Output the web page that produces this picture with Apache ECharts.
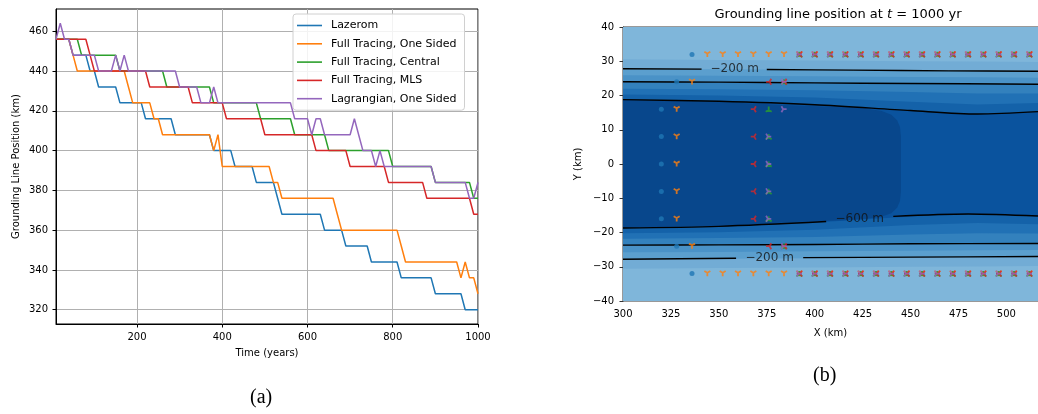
<!DOCTYPE html>
<html><head><meta charset="utf-8">
<script src="https://cdn.jsdelivr.net/npm/echarts@6/dist/echarts.min.js"></script>
<style>html,body{margin:0;padding:0;background:#fff}#c{width:1038px;height:414px}</style>
</head><body><div id="c"></div><script>
// ---------- Panel (a): grounding line position vs time ----------
const seriesNames = ['Lazerom', 'Full Tracing, One Sided', 'Full Tracing, Central', 'Full Tracing, MLS', 'Lagrangian, One Sided'];
const seriesColors = ['#1f77b4', '#ff7f0e', '#2ca02c', '#d62728', '#9467bd'];
const timeTicks = [200, 400, 600, 800, 1000];
const posTicks = [320, 340, 360, 380, 400, 420, 440, 460];

const lazerom = [[10,456],[40,456],[50,448],[80,448],[90,440],[100,440],[110,432],[150,432],[160,424],[210,424],[220,416],[280,416],[290,408],[370,408],[380,400],[420,400],[430,392],[470,392],[480,384],[520,384],[530,376],[540,368],[630,368],[640,360],[680,360],[690,352],[740,352],[750,344],[810,344],[820,336],[890,336],[900,328],[960,328],[970,320],[1000,320]];
const ftOneSided = [[10,456],[40,456],[50,448],[60,440],[170,440],[180,432],[190,424],[230,424],[240,416],[250,416],[260,408],[370,408],[380,400],[390,408],[400,392],[510,392],[520,384],[530,384],[540,376],[660,376],[670,368],[680,360],[810,360],[820,352],[830,344],[950,344],[960,336],[970,344],[980,336],[990,336],[1000,328]];
const ftCentral = [[10,456],[60,456],[70,448],[150,448],[160,440],[260,440],[270,432],[370,432],[380,424],[480,424],[490,416],[560,416],[570,408],[640,408],[650,400],[790,400],[800,392],[890,392],[900,384],[980,384],[990,376],[1000,376]];
const ftMLS = [[10,456],[80,456],[90,448],[100,440],[220,440],[230,432],[320,432],[330,424],[400,424],[410,416],[490,416],[500,408],[610,408],[620,400],[690,400],[700,392],[780,392],[790,384],[870,384],[880,376],[980,376],[990,368],[1000,368]];
const lagOneSided = [[10,456],[20,464],[30,456],[40,456],[50,448],[100,448],[110,440],[140,440],[150,448],[160,440],[170,448],[180,440],[290,440],[300,432],[340,432],[350,424],[370,424],[380,432],[390,424],[560,424],[570,416],[600,416],[610,408],[620,416],[630,416],[640,408],[700,408],[710,416],[720,408],[730,400],[750,400],[760,392],[770,400],[780,392],[890,392],[900,384],[970,384],[980,376],[990,376],[1000,384]];
const lineData = [lazerom, ftOneSided, ftCentral, ftMLS, lagOneSided];

// ---------- Panel (b): map at t = 1000 yr ----------
const xTicks = [300, 325, 350, 375, 400, 425, 450, 475, 500];
const yTicks = [-40, -30, -20, -10, 0, 10, 20, 30, 40];

// filled contour bands (boundaries sampled at contourX), outermost first
const contourX = [300, 350, 400, 450, 485, 516.5];
const bandUpper = [
  [40, 40, 40, 40, 40, 40],
  [30.6, 30.4, 30.2, 30.0, 29.9, 29.8],
  [27.8, 27.7, 27.5, 27.3, 27.2, 27.1],
  [25.9, 25.8, 25.6, 25.4, 25.3, 25.2],
  [24.0, 23.9, 23.7, 23.5, 23.4, 23.3],
  [22.0, 21.8, 21.5, 21.0, 20.6, 20.6],
  [20.3, 20.0, 19.4, 18.2, 17.4, 17.8],
  [18.8, 18.3, 17.3, 15.6, 14.6, 15.3]
];
const bandLower = [
  [-40, -40, -40, -40, -40, -40],
  [-30.6, -30.4, -30.2, -30.0, -29.9, -29.8],
  [-27.8, -27.7, -27.5, -27.3, -27.2, -27.1],
  [-25.8, -25.7, -25.5, -25.3, -25.2, -25.1],
  [-23.7, -23.6, -23.5, -23.3, -23.2, -23.2],
  [-21.8, -21.6, -21.3, -20.6, -20.2, -20.3],
  [-20.2, -19.9, -19.2, -17.8, -17.2, -17.6],
  [-18.7, -18.2, -17.1, -15.3, -14.6, -15.2]
];
const bandColors = ['#7fb6da', '#72acd5', '#5b9fce', '#4a92c7', '#3381bd', '#2171b5', '#1462a9', '#0a539e'];
// deepest band (core)
const coreX = [300, 350, 390, 415, 427, 435, 440, 443, 444.5, 445, 445, 444.5, 443, 440, 435, 427, 415, 390, 350, 300];
const coreY = [18.7, 18.1, 17.1, 16.6, 16.2, 15.5, 14.4, 12.8, 10.8, 8, -8, -10.8, -12.8, -14.4, -15.3, -16.0, -16.4, -16.9, -18.0, -18.6];
const coreColor = '#08478c';

// contour lines (segments broken where labels sit)
const contourSegments = [
  [[300,27.8],[341,27.7]], [[375,27.6],[420,27.4],[470,27.2],[516.5,27.1]],
  [[300,24.0],[350,23.9],[400,23.7],[450,23.5],[516.5,23.3]],
  [[300,18.8],[350,18.3],[400,17.3],[450,15.6],[485,14.6],[516.5,15.3]],
  [[300,-18.7],[350,-18.2],[406,-16.8]], [[441,-15.3],[480,-14.6],[516.5,-15.2]],
  [[300,-23.7],[350,-23.6],[400,-23.5],[450,-23.3],[516.5,-23.2]],
  [[300,-27.8],[359,-27.5]], [[394,-27.35],[450,-27.2],[516.5,-27.0]]
];
const contourLabels = [[358.3, 27.9, '\u2212200 m'], [423.5, -15.9, '\u2212600 m'], [376.5, -27.3, '\u2212200 m']];

// grounding line positions per method
const edgeX = [392, 400, 408, 416, 424, 432, 440, 448, 456, 464, 472, 480, 488, 496, 504, 512];
const lazeromPts = [[336,32],[328,24],[320,16],[320,8],[320,0],[320,-8],[320,-16],[328,-24],[336,-32]];
const ftOneSidedPts = [[344,32],[352,32],[360,32],[368,32],[376,32],[384,32],[336,24],[328,16],[328,8],[328,0],[328,-8],[328,-16],[336,-24],[344,-32],[352,-32],[360,-32],[368,-32],[376,-32],[384,-32]];
const ftCentralPts = [[376,16],[376,8],[376,0],[376,-8],[376,-16],[384,24],[384,-24]];
const ftMLSPts = [[376,24],[368,16],[368,8],[368,0],[368,-8],[368,-16],[376,-24],[384,24],[384,-24]];
const lagOneSidedPts = [[384,16],[376,8],[376,0],[376,-8],[376,-16],[384,24],[384,-24]];
const markerPts = [lazeromPts, ftOneSidedPts, ftCentralPts, ftMLSPts, lagOneSidedPts];

// ---------- build ----------
const FONT = 'DejaVu Sans';
const minus = v => String(v).replace('-', '\u2212');
const symbols = [
  'circle',
  'path://M0,0L0,10M0,0L-8.66,-5M0,0L8.66,-5',   // tri_down
  'path://M0,0L0,-10M0,0L-8.66,5M0,0L8.66,5',    // tri_up
  'path://M0,0L-10,0M0,0L5,-8.66M0,0L5,8.66',    // tri_left
  'path://M0,0L10,0M0,0L-5,-8.66M0,0L-5,8.66'    // tri_right
];

const series = [];
lineData.forEach((d, i) => series.push({
  name: seriesNames[i], type: 'line', xAxisIndex: 0, yAxisIndex: 0, data: d,
  symbol: 'none', lineStyle: {width: 1.5, color: seriesColors[i]}, itemStyle: {color: seriesColors[i]},
  animation: false, z: 3 + i
}));
series.push({
  type: 'custom', xAxisIndex: 1, yAxisIndex: 1, data: bandColors.map((c, k) => [k]), clip: true,
  renderItem: (params, api) => {
    const k = api.value(0), pts = [];
    for (let i = 0; i < contourX.length; i++) pts.push(api.coord([contourX[i], bandUpper[k][i]]));
    for (let i = contourX.length - 1; i >= 0; i--) pts.push(api.coord([contourX[i], bandLower[k][i]]));
    return {type: 'polygon', shape: {points: pts}, style: {fill: bandColors[k]}};
  }, animation: false, z: 1, silent: true
});
series.push({
  type: 'custom', xAxisIndex: 1, yAxisIndex: 1, data: [[0]], clip: true,
  renderItem: (params, api) => ({type: 'polygon', shape: {points: coreX.map((x, i) => api.coord([x, coreY[i]]))},
    style: {fill: coreColor}}), animation: false, z: 2, silent: true
});
contourSegments.forEach(seg => series.push({
  type: 'line', xAxisIndex: 1, yAxisIndex: 1, data: seg, symbol: 'none', smooth: 0.3,
  lineStyle: {color: '#000', width: 1.4}, animation: false, z: 3, silent: true
}));
series.push({
  type: 'scatter', xAxisIndex: 1, yAxisIndex: 1, data: contourLabels, symbolSize: 0,
  label: {show: true, position: 'inside', formatter: p => p.data[2], color: '#111', fontSize: 12, fontFamily: FONT},
  animation: false, z: 4, silent: true
});
markerPts.forEach((pts, i) => {
  const all = pts.concat(edgeX.map(x => [x, 32]), edgeX.map(x => [x, -32]));
  series.push({
    type: 'scatter', xAxisIndex: 1, yAxisIndex: 1, data: all, symbol: symbols[i],
    symbolSize: i === 0 ? 5 : 6, symbolKeepAspect: true,
    itemStyle: i === 0 ? {color: seriesColors[i]} : {color: 'none', borderColor: seriesColors[i], borderWidth: 1.8},
    animation: false, z: 5 + i, silent: true
  });
});

const axisTxt = {color: '#000', fontSize: 10, fontFamily: FONT};
const option = {
  backgroundColor: '#fff',
  animation: false,
  title: {
    text: '{n|Grounding line position at }{i|t}{n| = 1000 yr}', left: 833, top: 3, textAlign: 'center',
    textStyle: {fontWeight: 'normal', rich: {n: {fontSize: 13, fontFamily: FONT, color: '#000', fontWeight: 'normal'}, i: {fontSize: 13, fontFamily: FONT, fontStyle: 'italic', color: '#000', fontWeight: 'normal'}}}
  },
  legend: {
    data: seriesNames, left: 293, top: 14, orient: 'vertical', icon: 'rect', itemWidth: 25, itemHeight: 1.6, itemGap: 7.3,
    padding: [6, 8, 6, 4], backgroundColor: 'rgba(255,255,255,0.85)', borderColor: '#d0d0d0', borderWidth: 1, borderRadius: 3,
    textStyle: {fontSize: 11, lineHeight: 10, fontFamily: FONT, color: '#000', padding: [0, 0, 0, 4]}
  },
  grid: [
    {left: 56, top: 9, width: 422, height: 315, show: true, borderColor: '#000', borderWidth: 1, backgroundColor: 'transparent'},
    {left: 623, top: 27, width: 415, height: 274, show: true, borderColor: '#333', borderWidth: 1, backgroundColor: 'transparent'}
  ],
  xAxis: [
    {type: 'value', gridIndex: 0, min: 10, max: 1000, name: 'Time (years)', nameLocation: 'middle', nameGap: 24,
      nameTextStyle: axisTxt, axisLine: {show: true, lineStyle: {color: '#000', width: 1}},
      axisTick: {show: true, length: 3.5, lineStyle: {color: '#000'}, customValues: timeTicks},
      axisLabel: {...axisTxt, margin: 8, customValues: timeTicks, formatter: v => String(v)},
      splitLine: {show: true, lineStyle: {color: '#b0b0b0', width: 1}}},
    {type: 'value', gridIndex: 1, min: 300, max: 516.5, name: 'X (km)', nameLocation: 'middle', nameGap: 27,
      nameTextStyle: axisTxt, axisLine: {show: true, lineStyle: {color: '#333', width: 1}},
      axisTick: {show: true, length: 3.5, lineStyle: {color: '#333'}, customValues: xTicks},
      axisLabel: {...axisTxt, margin: 8, customValues: xTicks, formatter: v => String(v)}, splitLine: {show: false}}
  ],
  yAxis: [
    {type: 'value', gridIndex: 0, min: 312.8, max: 471.2, name: 'Grounding Line Position (km)', nameLocation: 'middle', nameGap: 35,
      nameTextStyle: axisTxt, axisLine: {show: true, lineStyle: {color: '#000', width: 1}},
      axisTick: {show: true, length: 3.5, lineStyle: {color: '#000'}, customValues: posTicks},
      axisLabel: {...axisTxt, margin: 8, customValues: posTicks, formatter: v => String(v)},
      splitLine: {show: true, lineStyle: {color: '#b0b0b0', width: 1}}},
    {type: 'value', gridIndex: 1, min: -40, max: 40, name: 'Y (km)', nameLocation: 'middle', nameGap: 40,
      nameTextStyle: axisTxt, axisLine: {show: true, lineStyle: {color: '#333', width: 1}},
      axisTick: {show: true, length: 3.5, lineStyle: {color: '#333'}, customValues: yTicks},
      axisLabel: {...axisTxt, margin: 9, customValues: yTicks, formatter: v => minus(v)}, splitLine: {show: false}}
  ],
  graphic: [
    {type: 'text', left: 250, top: 388, style: {text: '(a)', fontSize: 20, fontFamily: 'Liberation Serif', fill: '#000'}},
    {type: 'text', left: 813, top: 366, style: {text: '(b)', fontSize: 20, fontFamily: 'Liberation Serif', fill: '#000'}}
  ],
  series: series
};
const chart = echarts.init(document.getElementById('c'), null, {renderer: 'canvas'});
chart.setOption(option);
</script></body></html>
